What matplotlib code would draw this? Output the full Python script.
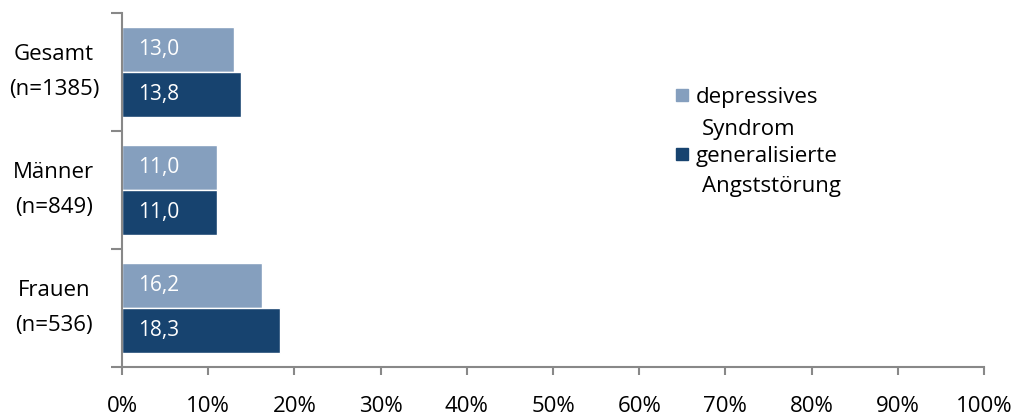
import numpy as np
import matplotlib
matplotlib.use('Agg')
from matplotlib import pyplot as plt
from matplotlib.patches import Rectangle

plt.rcParams['font.family'] = ['Open Sans', 'DejaVu Sans']

groups = ['Gesamt\n(n=1385)', 'Männer\n(n=849)', 'Frauen\n(n=536)']
depressiv = [13.0, 11.0, 16.2]
angst = [13.8, 11.0, 18.3]
series_names = [('depressives', 'Syndrom'), ('generalisierte', 'Angststörung')]
col_light = '#859fbe'
col_dark = '#17436f'

W, H = 1019, 416
fig = plt.figure(figsize=(W/100., H/100.), dpi=100)
ax = fig.add_axes([0.1197, 0.1178, 0.846, 0.851])

y = np.arange(len(groups))
h = 0.385
b1 = ax.barh(y - h/2, depressiv, height=h, color=col_light, edgecolor='white', linewidth=1)
b2 = ax.barh(y + h/2, angst, height=h, color=col_dark, edgecolor='white', linewidth=1)

for bars, vals in [(b1, depressiv), (b2, angst)]:
	for r, v in zip(bars, vals):
		ax.text(1.9, r.get_y() + r.get_height()/2, ('%.1f' % v).replace('.', ','),
			color='white', fontsize=15, va='center', ha='left')

ax.set_xlim(0, 100)
ax.set_ylim(2.5, -0.5)
ax.set_xticks(np.arange(0, 101, 10))
ax.set_xticklabels(['%d%%' % t for t in range(0, 101, 10)], fontsize=16)
ax.set_yticks([-0.5, 0.5, 1.5, 2.5])
ax.set_yticklabels([])
ax.set_yticks(y, minor=True)
ax.set_yticklabels(groups, minor=True, fontsize=16, ha='center', va='center', linespacing=1.9)
ax.tick_params(axis='y', which='minor', length=0, pad=49)
ax.tick_params(axis='y', which='major', length=8, color='#888888', width=1.5)
ax.tick_params(axis='x', length=6, color='#888888', width=1.5, pad=15)
for s in ['top', 'right']:
	ax.spines[s].set_visible(False)
for s in ['left', 'bottom']:
	ax.spines[s].set_color('#888888')
	ax.spines[s].set_linewidth(1.5)

# legend, first line next to the square, second line indented below
leg_y = [(101, 135), (160, 192)]
for (l1, l2), c, (y1, y2) in zip(series_names, [col_light, col_dark], leg_y):
	fig.patches.append(Rectangle((676./W, 1 - y1/float(H)), 12./W, 12./H,
		transform=fig.transFigure, color=c))
	fig.text(696./W, 1 - (y1 + 2)/float(H), l1, fontsize=16, va='baseline', ha='left')
	fig.text(702./W, 1 - (y2)/float(H), l2, fontsize=16, va='baseline', ha='left')

fig.savefig('out.png')
